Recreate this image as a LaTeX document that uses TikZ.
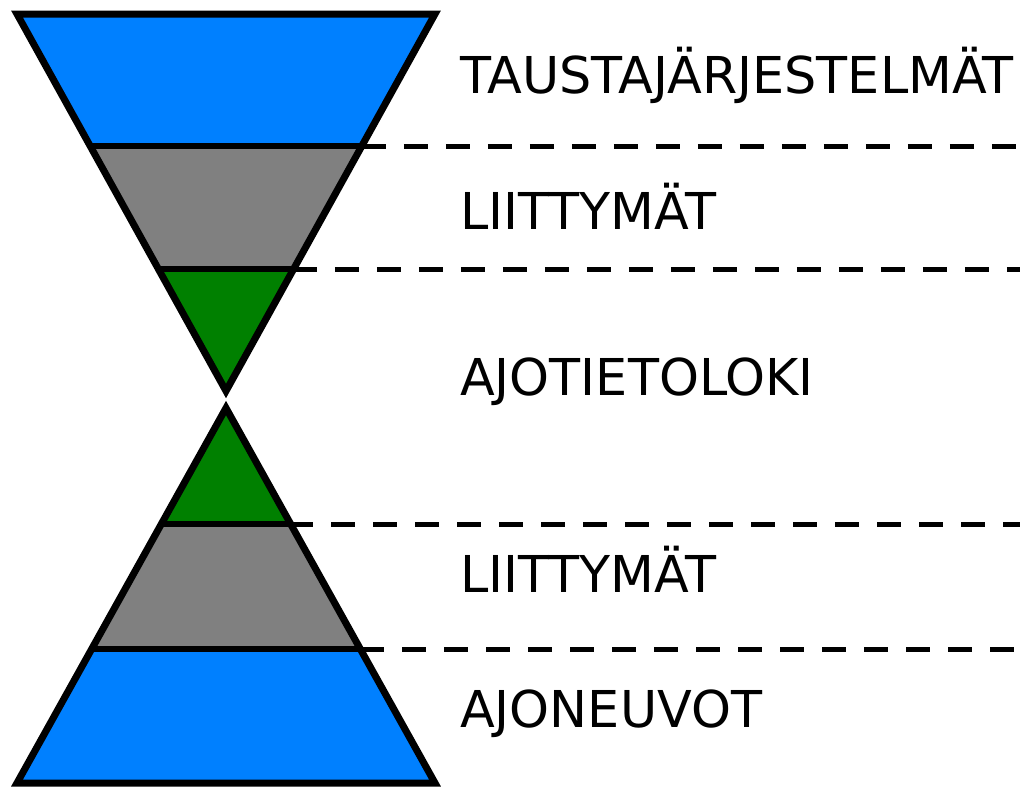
\documentclass[tikz,border=0pt]{standalone}
\usepackage{fontspec}
\setmainfont{DejaVu Sans}
\usepackage{tikz}

\definecolor{layerblue}{RGB}{0,128,255}
\definecolor{layergray}{RGB}{128,128,128}
\definecolor{layergreen}{RGB}{0,128,0}

\tikzset{
    outline/.style={
           draw=black,
           line width=7pt,
           line join=miter,
           miter limit=20,
           },
    divider/.style={
           draw=black,
           line width=5.5pt,
           },
    levelline/.style={
           draw=black,
           line width=5pt,
           dash pattern=on 24pt off 18pt,
           },
    levellabel/.style={
           anchor=base west,
           inner sep=0pt,
           font=\fontsize{50.8}{60}\selectfont,
           },
}

\begin{document}
\begin{tikzpicture}[x=1pt,y=-1pt]

 \useasboundingbox (0,0) rectangle (1020,788);

 % corners of the two triangles
 \coordinate (TopL) at (17,14);
 \coordinate (TopR) at (435,14);
 \coordinate (TopApex) at (226,391);
 \coordinate (BotApex) at (226,408);
 \coordinate (BotL) at (17,783);
 \coordinate (BotR) at (435,783);

 % where the bands meet the edges
 \coordinate (TopBlueL) at (90.2,146);
 \coordinate (TopBlueR) at (361.8,146);
 \coordinate (TopGrayL) at (159.2,269);
 \coordinate (TopGrayR) at (292.8,269);
 \coordinate (BotGreenL) at (162.8,524);
 \coordinate (BotGreenR) at (289.2,524);
 \coordinate (BotGrayL) at (91.8,649);
 \coordinate (BotGrayR) at (360.2,649);

 % right ends of the dashed lines
 \coordinate (DashA) at (1020,146);
 \coordinate (DashB) at (1020,269);
 \coordinate (DashC) at (1020,524);
 \coordinate (DashD) at (1020,649);

 % coloured bands
 \fill[layerblue]  (TopL) -- (TopR) -- (TopBlueR) -- (TopBlueL) -- cycle;
 \fill[layergray]  (TopBlueL) -- (TopBlueR) -- (TopGrayR) -- (TopGrayL) -- cycle;
 \fill[layergreen] (TopGrayL) -- (TopGrayR) -- (TopApex) -- cycle;
 \fill[layergreen] (BotApex) -- (BotGreenR) -- (BotGreenL) -- cycle;
 \fill[layergray]  (BotGreenL) -- (BotGreenR) -- (BotGrayR) -- (BotGrayL) -- cycle;
 \fill[layerblue]  (BotGrayL) -- (BotGrayR) -- (BotR) -- (BotL) -- cycle;

 % band borders
 \draw[divider] (TopBlueL) -- (TopBlueR);
 \draw[divider] (TopGrayL) -- (TopGrayR);
 \draw[divider] (BotGreenL) -- (BotGreenR);
 \draw[divider] (BotGrayL) -- (BotGrayR);

 \draw[outline] (TopL) -- (TopR) -- (TopApex) -- cycle;
 \draw[outline] (BotApex) -- (BotR) -- (BotL) -- cycle;

 % dashed lines to the right
 \draw[levelline] (TopBlueR) -- (DashA);
 \draw[levelline] (TopGrayR) -- (DashB);
 \draw[levelline] (BotGreenR) -- (DashC);
 \draw[levelline] (BotGrayR) -- (DashD);

 % labels
 \node[levellabel] (Tausta) at (460,93) {TAUSTAJÄRJESTELMÄT};
 \node[levellabel] (LiitYla) at (460,229) {LIITTYMÄT};
 \node[levellabel] (Ajotieto) at (460,395) {AJOTIETOLOKI};
 \node[levellabel] (LiitAla) at (460,592) {LIITTYMÄT};
 \node[levellabel] (Ajoneuvot) at (460,727) {AJONEUVOT};

\end{tikzpicture}
\end{document}
